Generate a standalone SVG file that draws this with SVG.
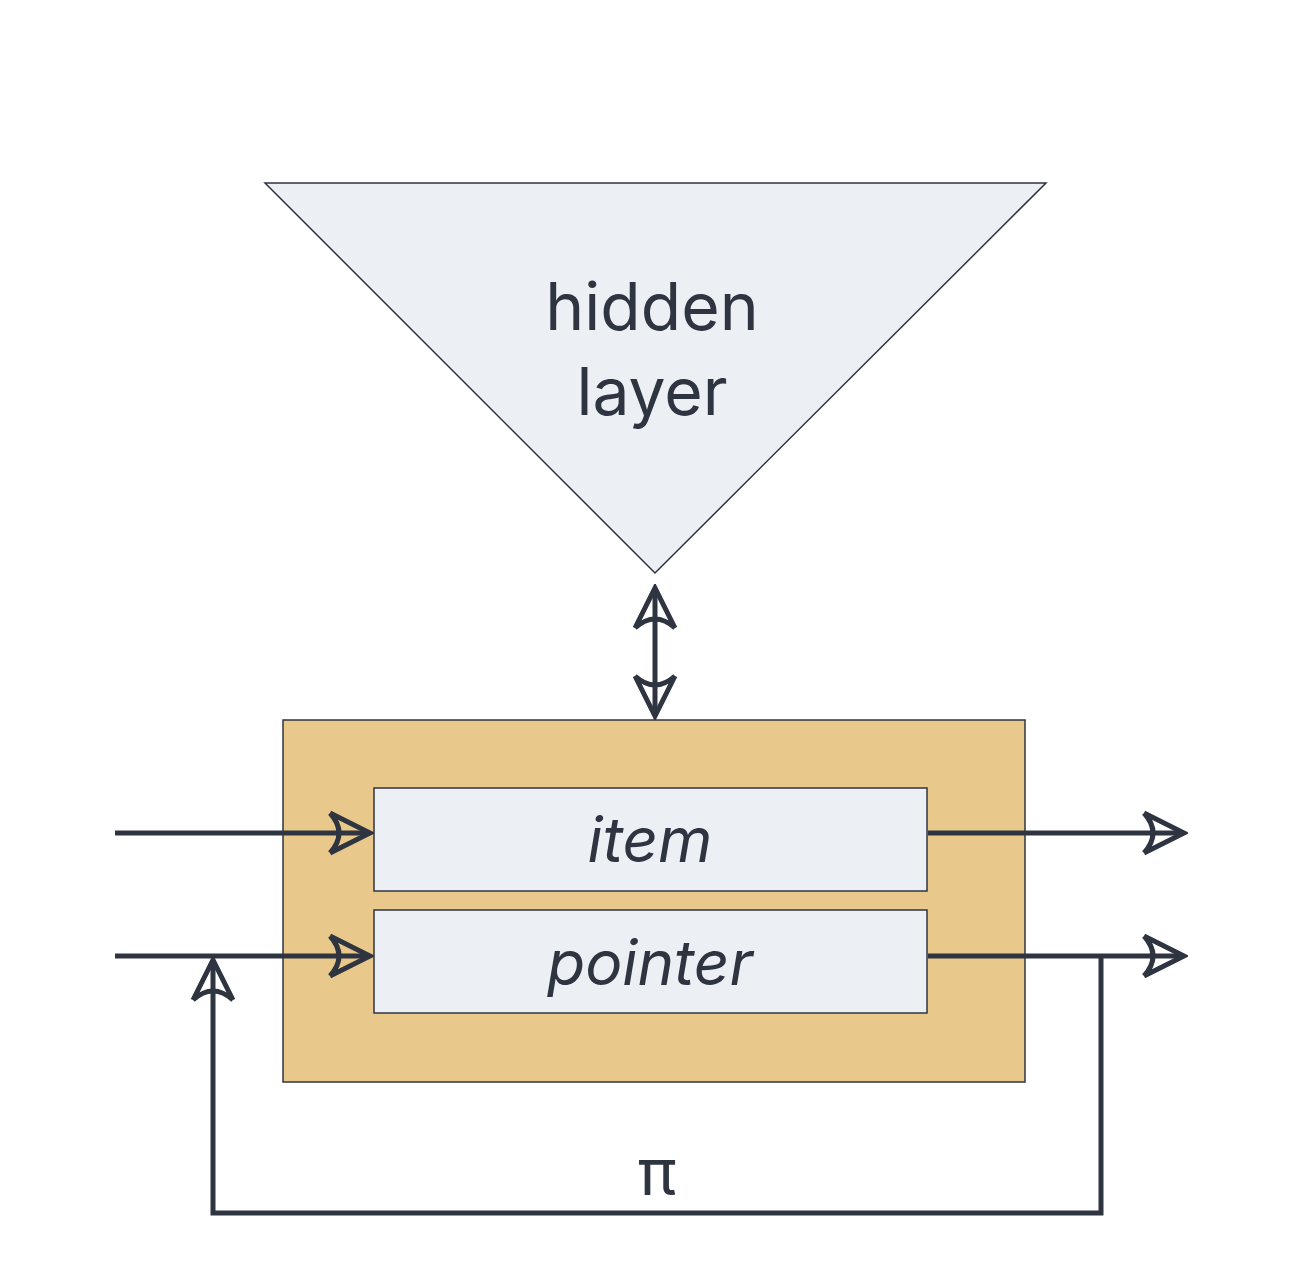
<svg xmlns="http://www.w3.org/2000/svg" width="1306" height="1269" viewBox="0 0 1306 1269">
<style>
.n{fill:#eceff4;stroke:#2e3440;stroke-width:1.5}
.t{font-family:Inter,"Noto Sans",sans-serif;fill:#2e3440;text-anchor:middle}
.c{fill:none;stroke:#2e3440;stroke-width:5}
</style>
<defs>
<marker id="a" markerUnits="userSpaceOnUse" viewBox="-44 -24 48 48" markerWidth="48" markerHeight="48" refX="0" refY="0" orient="auto-start-reverse">
<path d="M-40,-20 L0,0 L-40,20 M-40,-20 Q-22,0 -40,20" fill="none" stroke="#2e3440" stroke-width="5" stroke-linejoin="miter"/>
</marker>
</defs>
<rect width="1306" height="1269" fill="#fff"/>
<g id="hidden">
<polygon class="n" points="265,183 1046,183 655,573"/>
<text class="t" x="652" y="330" font-size="66">hidden</text>
<text class="t" x="652" y="415" font-size="66">layer</text>
</g>
<g id="memory">
<rect x="283" y="720" width="742" height="362" fill="#e9c98b" stroke="#2e3440" stroke-width="1.5"/>
</g>
<g id="item">
<rect class="n" x="374" y="788" width="553" height="103"/>
<text class="t" x="650" y="862" font-size="62" font-style="italic">item</text>
</g>
<g id="pointer">
<rect class="n" x="374" y="910" width="553" height="103"/>
<text class="t" x="650" y="985" font-size="62" font-style="italic">pointer</text>
</g>
<g id="connectors">
<line class="c" x1="655" y1="588" x2="655" y2="716" marker-start="url(#a)" marker-end="url(#a)"/>
<line class="c" x1="115" y1="833" x2="370" y2="833" marker-end="url(#a)"/>
<line class="c" x1="928" y1="833" x2="1184" y2="833" marker-end="url(#a)"/>
<line class="c" x1="115" y1="956" x2="370" y2="956" marker-end="url(#a)"/>
<line class="c" x1="928" y1="956" x2="1184" y2="956" marker-end="url(#a)"/>
<polyline class="c" points="1101,956 1101,1213 213,1213 213,960" marker-end="url(#a)"/>
<text class="t" x="657" y="1195" font-size="64">π</text>
</g>
</svg>
